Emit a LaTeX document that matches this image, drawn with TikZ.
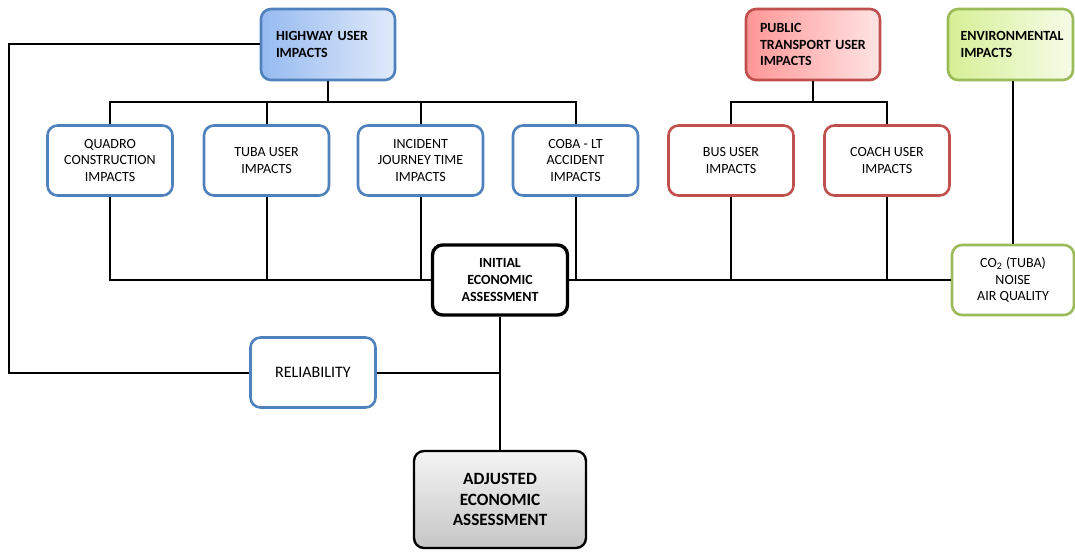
\documentclass[tikz,border=0pt]{standalone}
\usepackage{fontspec}
\setmainfont{Carlito}
\definecolor{hwblue}{RGB}{79,129,189}
\definecolor{ptred}{RGB}{192,80,77}
\definecolor{envgreen}{RGB}{155,187,89}
\definecolor{hwdark}{RGB}{150,186,240}
\definecolor{hwlight}{RGB}{224,234,250}
\definecolor{ptdark}{RGB}{255,150,150}
\definecolor{ptlight}{RGB}{255,228,228}
\definecolor{envdark}{RGB}{214,240,150}
\definecolor{envlight}{RGB}{246,252,232}
\usetikzlibrary{positioning}

\begin{document}
\begin{tikzpicture}[x=0.5pt,y=-0.5pt,
    box/.style={draw,rounded corners=5pt,line width=1.3pt,fill=white,align=center,
                minimum width=62.5pt,minimum height=35pt,inner sep=2pt,
                font=\fontsize{7}{8.2}\selectfont},
    hwbox/.style={box,draw=hwblue},
    ptbox/.style={box,draw=ptred},
    headbox/.style={box,minimum width=67pt,minimum height=35.5pt,text width=52pt,
                    align=left,font=\fontsize{7}{8.4}\selectfont\bfseries},
    link/.style={line width=1pt}]
  \useasboundingbox (0,0) rectangle (1075,551);

  % Heads
  \node[headbox,draw=hwblue,left color=hwdark,right color=hwlight]
        (hw) at (328,44.5) {HIGHWAY USER\\IMPACTS};
  \node[headbox,draw=ptred,left color=ptdark,right color=ptlight,text width=53pt]
        (pt) at (813,44.5) {PUBLIC\\TRANSPORT USER\\IMPACTS};
  \node[headbox,draw=envgreen,left color=envdark,right color=envlight,
        minimum width=62.5pt,text width=50pt]
        (env) at (1010.5,44.5) {ENVIRONMENTAL\\IMPACTS};

  % Highway user boxes
  \node[hwbox] (quadro)   at (110,160.5)   {QUADRO\\CONSTRUCTION\\IMPACTS};
  \node[hwbox] (tuba)     at (266.5,160.5) {TUBA USER\\IMPACTS};
  \node[hwbox] (incident) at (420.5,160.5) {INCIDENT\\JOURNEY TIME\\IMPACTS};
  \node[hwbox] (coba)     at (575.5,160.5) {COBA - LT\\ACCIDENT\\IMPACTS};

  % Public transport boxes
  \node[ptbox] (bus)   at (731,160.5) {BUS USER\\IMPACTS};
  \node[ptbox] (coach) at (887,160.5) {COACH USER\\IMPACTS};

  % Assessment boxes
  \node[box,line width=1.7pt,minimum width=67.5pt,font=\fontsize{7}{8.3}\selectfont\bfseries]
        (init) at (500,280) {INITIAL\\ECONOMIC\\ASSESSMENT};
  \node[box,draw=envgreen,minimum width=61pt] (co2) at (1013,280)
        {CO\textsubscript{2} (TUBA)\\NOISE\\AIR QUALITY};
  \node[hwbox,font=\fontsize{8}{9}\selectfont] (rel) at (313,372.5) {RELIABILITY};
  \node[box,line width=1.2pt,minimum width=86pt,minimum height=48.5pt,
        top color=gray!8,bottom color=gray!45,font=\fontsize{8.6}{10.2}\selectfont\bfseries]
        (adj) at (500,499.5) {ADJUSTED\\ECONOMIC\\ASSESSMENT};

  % Junctions
  \coordinate (hwbus) at (328,102);
  \coordinate (ptbus) at (813,102);
  \coordinate (hwleft) at (9,44.5);

  % Tree links
  \draw[link] (hw.south) -- (hwbus);
  \draw[link] (quadro.north) |- (hwbus) -| (coba.north);
  \draw[link] (tuba.north) -- (tuba.north |- hwbus);
  \draw[link] (incident.north) -- (incident.north |- hwbus);
  \draw[link] (pt.south) -- (ptbus);
  \draw[link] (bus.north) |- (ptbus) -| (coach.north);
  \draw[link] (co2.north |- env.south) -- (co2.north);

  % Links into initial assessment
  \draw[link] (quadro.south) |- (init.west);
  \draw[link] (tuba.south) -- (tuba.south |- init.west);
  \draw[link] (incident.south) -- (incident.south |- init.west);
  \draw[link] (init.east) -- (co2.west);
  \draw[link] (coba.south) -- (coba.south |- init.east);
  \draw[link] (bus.south) -- (bus.south |- init.east);
  \draw[link] (coach.south) -- (coach.south |- init.east);

  % Reliability and final
  \draw[link] (hw.west) -- (hwleft) |- (rel.west);
  \draw[link] (rel.east) -- (rel.east -| init.south);
  \draw[link] (init.south) -- (adj.north);
\end{tikzpicture}
\end{document}
